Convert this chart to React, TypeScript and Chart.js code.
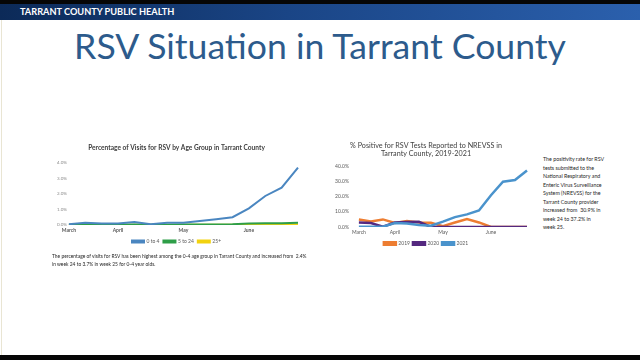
import React, { useEffect, useRef } from "react";
import { Chart, registerables } from "chart.js";
Chart.register(...registerables);

// ---- data ----
const xLabels = ["March", "", "", "April", "", "", "", "May", "", "", "", "June", "", "", ""];

const age0to4 = [0.05, 0.15, 0.1, 0.1, 0.2, 0.05, 0.15, 0.15, 0.25, 0.37, 0.5, 1.07, 1.87, 2.4, 3.7];
const age5to24 = [0.02, 0.03, 0.02, 0.02, 0.03, 0.02, 0.02, 0.03, 0.03, 0.04, 0.05, 0.1, 0.12, 0.11, 0.15];
const age25plus = [0.01, 0.02, 0.01, 0.01, 0.02, 0.01, 0.01, 0.01, 0.02, 0.02, 0.02, 0.03, 0.03, 0.03, 0.04];
const ageLabels = ["0 to 4", "5 to 24", "25+"];

const pos2019 = [5.0, 3.7, 5.0, 2.6, 3.9, 3.0, 2.8, 0.6, 3.0, 5.2, 3.0, 0, 0, 0, 0];
const pos2020 = [2.9, 2.6, 0.2, 2.9, 3.3, 3.4, 0, 0, 0, 0, 0, 0, 0, 0, 0];
const pos2021 = [0.2, 0.2, 0.2, 2.6, 2.3, 1.3, 0.8, 3.5, 6.5, 8.3, 10.9, 20.9, 29.8, 30.9, 37.2];
const yearLabels = ["2019", "2020", "2021"];

const leftYTicks = { min: 0, max: 4, step: 0.5 };
const rightYTicks = { min: 0, max: 40, step: 5 };

const FONT = "Lato, 'Open Sans', sans-serif";
Chart.defaults.font.family = FONT;

function LeftChart() {
  const ref = useRef<HTMLCanvasElement>(null);
  useEffect(() => {
    const colors = ["#4a86c0", "#2e9e48", "#f2d20f"];
    const series = [age0to4, age5to24, age25plus];
    const chart = new Chart(ref.current!, {
      type: "line",
      data: {
        labels: xLabels,
        datasets: series.map((d, i) => ({
          label: ageLabels[i],
          data: d,
          borderColor: colors[i],
          backgroundColor: colors[i],
          borderWidth: 2,
          pointRadius: 0,
          tension: 0,
        })),
      },
      options: {
        animation: false,
        responsive: false,
        maintainAspectRatio: false,
        layout: { padding: { left: 0, right: 7, top: 0, bottom: 2 } },
        plugins: {
          title: {
            display: true,
            text: "Percentage of Visits for RSV by Age Group in Tarrant County",
            font: { family: FONT, size: 6.6, weight: "bold" },
            color: "#404040",
            padding: { top: 6, bottom: 11 },
          },
          legend: {
            position: "bottom",
            labels: { boxWidth: 12, boxHeight: 2, font: { size: 5, family: FONT }, color: "#595959", padding: 4 },
          },
          tooltip: { enabled: false },
        },
        scales: {
          x: {
            grid: { display: false, drawTicks: false },
            border: { display: false },
            ticks: { autoSkip: false, maxRotation: 0, font: { size: 5, weight: "bold" }, color: "#595959", padding: 2 },
            afterFit: (s: any) => {
              s.height = 10;
            },
          },
          y: {
            min: leftYTicks.min,
            max: leftYTicks.max,
            grid: { display: false, drawTicks: false },
            border: { display: false },
            ticks: {
              stepSize: leftYTicks.step,
              font: { size: 4.5 },
              color: "#8c8c8c",
              padding: 2,
              callback: (v: any) => Number(v).toFixed(1) + "%",
            },
          },
        },
      },
    });
    return () => chart.destroy();
  }, []);
  return (
    <canvas ref={ref} width={250} height={118} style={{ position: "absolute", left: 55, top: 138, width: 250, height: 118 }} />
  );
}

function RightChart() {
  const ref = useRef<HTMLCanvasElement>(null);
  useEffect(() => {
    const colors = ["#ed7d31", "#54287f", "#4a93cc"];
    const series = [pos2019, pos2020, pos2021];
    const chart = new Chart(ref.current!, {
      type: "line",
      data: {
        labels: xLabels,
        datasets: series.map((d, i) => ({
          label: yearLabels[i],
          data: d,
          borderColor: colors[i],
          backgroundColor: colors[i],
          borderWidth: 2.5,
          pointRadius: 0,
          tension: 0,
          order: 3 - i,
        })),
      },
      options: {
        animation: false,
        responsive: false,
        maintainAspectRatio: false,
        layout: { padding: { left: 7, right: 13, top: 0, bottom: 2 } },
        plugins: {
          title: {
            display: true,
            text: ["% Positive for RSV Tests Reported to NREVSS in", "Tarranty County, 2019-2021"],
            font: { family: FONT, size: 7.2, weight: "normal", lineHeight: 1.2 },
            color: "#404040",
            padding: { top: 5, bottom: 8 },
          },
          legend: {
            position: "bottom",
            labels: {
              boxWidth: 12,
              boxHeight: 2.5,
              font: { size: 5, family: FONT },
              color: "#595959",
              padding: 3,
              sort: (a: any, b: any) => a.datasetIndex - b.datasetIndex,
            },
          },
          tooltip: { enabled: false },
        },
        scales: {
          x: {
            grid: { display: false, drawTicks: false },
            border: { display: false },
            ticks: { autoSkip: false, maxRotation: 0, font: { size: 5 }, color: "#595959", padding: 2 },
            afterFit: (s: any) => {
              s.height = 11;
            },
          },
          y: {
            min: rightYTicks.min,
            max: rightYTicks.max,
            grid: { display: false, drawTicks: false },
            border: { display: false },
            ticks: {
              stepSize: rightYTicks.step,
              font: { size: 5 },
              color: "#595959",
              padding: 10,
              callback: (v: any) => Number(v).toFixed(1) + "%",
            },
          },
        },
      },
    });
    return () => chart.destroy();
  }, []);
  return (
    <canvas ref={ref} width={222} height={122} style={{ position: "absolute", left: 318, top: 136, width: 222, height: 122 }} />
  );
}

const sideText = [
  "The positivity rate for RSV",
  "tests submitted to the",
  "National Respiratory and",
  "Enteric Virus Surveillance",
  "System (NREVSS) for the",
  "Tarrant County provider",
  "increased from  30.9% in",
  "week 24 to 37.2% in",
  "week 25.",
];

const bottomText = [
  "The percentage of visits for RSV has been highest among the 0-4 age group in Tarrant County and increased from  2.4%",
  "in week 24 to 3.7% in week 25 for 0-4 year olds.",
];

export default function App() {
  return (
    <div
      style={{
        position: "fixed",
        left: 0,
        top: 0,
        width: 640,
        height: 360,
        background: "#ffffff",
        overflow: "hidden",
        fontFamily: FONT,
      }}
    >
      <div style={{ position: "absolute", left: 0, top: 0, width: 640, height: 4, background: "#060606" }} />
      <div
        style={{
          position: "absolute",
          left: 0,
          top: 4,
          width: 640,
          height: 16,
          background: "linear-gradient(90deg, #0c2a58 0%, #1a4586 45%, #2b60ad 100%)",
        }}
      />
      <div
        style={{
          position: "absolute",
          left: 20,
          top: 4,
          height: 16,
          lineHeight: "15px",
          color: "#ffffff",
          fontWeight: 700,
          fontSize: 9.2,
          whiteSpace: "nowrap",
        }}
      >
        TARRANT COUNTY PUBLIC HEALTH
      </div>
      <div style={{ position: "absolute", left: 1, top: 20, width: 1, height: 335, background: "#e9e5d3" }} />
      <div
        style={{
          position: "absolute",
          left: 0,
          top: 24,
          width: 640,
          textAlign: "center",
          fontSize: 35.6,
          lineHeight: "44px",
          color: "#2d5b8c",
          whiteSpace: "nowrap",
        }}
      >
        RSV Situation in Tarrant County
      </div>
      <LeftChart />
      <RightChart />
      <div
        style={{
          position: "absolute",
          left: 543,
          top: 155,
          fontSize: 5.3,
          lineHeight: "8.5px",
          color: "#262626",
          whiteSpace: "pre",
        }}
      >
        {sideText.join("\n")}
      </div>
      <div
        style={{
          position: "absolute",
          left: 52,
          top: 252,
          fontSize: 4.9,
          lineHeight: "8px",
          color: "#262626",
          whiteSpace: "pre",
        }}
      >
        {bottomText.join("\n")}
      </div>
      <div style={{ position: "absolute", left: 0, top: 355, width: 640, height: 5, background: "#060606" }} />
    </div>
  );
}
